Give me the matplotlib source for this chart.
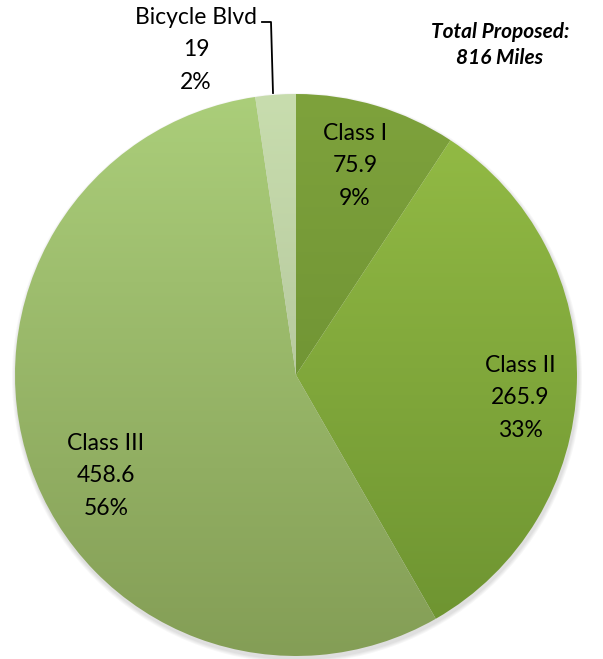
import matplotlib
matplotlib.use("Agg")

import numpy as np
import matplotlib.pyplot as plt
import matplotlib.patches as mpatches
from matplotlib.colors import LinearSegmentedColormap

# Data
categories = ["Class I", "Class II", "Class III", "Bicycle Blvd"]
miles = [75.9, 265.9, 458.6, 19]
pct_labels = ["9%", "33%", "56%", "2%"]
value_labels = ["75.9", "265.9", "458.6", "19"]

# Gradient colours (top, bottom) for each slice
_TOPS = ["#7ea23c", "#95bd46", "#abce7a", "#c8ddae"]
_BOTTOMS = ["#65892e", "#6c9230", "#849e56", "#a7b790"]

W, H = 603, 659
CX, CY, R = 296, H - 375, 281

fig = plt.figure(figsize=(W / 100, H / 100), dpi=100, facecolor="white")
ax = fig.add_axes([0, 0, 1, 1])

# soft shadow
for i in range(4):
    ax.add_patch(mpatches.Circle((CX + 1, CY - 3), R + 4 - i, color="black",
                                 alpha=0.03, lw=0, zorder=0))

wedges, _ = ax.pie(miles, startangle=90, counterclock=False,
                   center=(CX, CY), radius=R, frame=True,
                   wedgeprops=dict(linewidth=0))

grad = np.linspace(1, 0, 256).reshape(-1, 1)
for w, top, bot in zip(wedges, _TOPS, _BOTTOMS):
    w.set_facecolor("none")
    cmap = LinearSegmentedColormap.from_list("g", [bot, top])
    im = ax.imshow(grad, cmap=cmap, extent=(CX - R, CX + R, CY - R, CY + R),
                   aspect="auto", zorder=1, interpolation="bilinear", vmin=0, vmax=1)
    im.set_clip_path(w)

ax.set_xlim(0, W)
ax.set_ylim(0, H)
ax.set_aspect("auto")
ax.axis("off")

font = ["Lato", "DejaVu Sans"]
tk = dict(ha="center", va="center", fontsize=16.5, family=font, color="black",
          linespacing=1.65, zorder=5)

# label positions in pixel coords (x, y from top)
label_pos = [(355, 166), (520, 398), (106, 476), (196, 50)]
for name, val, pct, (x, y) in zip(categories, value_labels, pct_labels, label_pos):
    ax.text(x, H - y, f"{name}\n{val}\n{pct}", **tk)

# leader line for Bicycle Blvd
ax.plot([262, 271, 273], [H - 22, H - 22, H - 93], color="black", lw=1.3, zorder=5)

ax.text(500, H - 45, "Total Proposed:\n816 Miles", ha="center", va="center",
        fontsize=15, family=font, fontweight="bold", fontstyle="italic",
        linespacing=1.4, zorder=5)

fig.savefig("out.png", dpi=100, facecolor="white")
plt.close(fig)
